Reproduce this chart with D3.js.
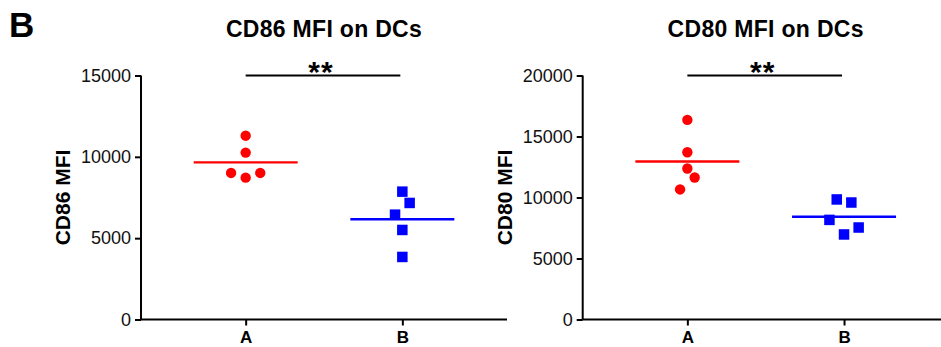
<!DOCTYPE html>
<html><head><meta charset="utf-8">
<script src="https://cdn.jsdelivr.net/npm/d3@7"></script>
<style>html,body{margin:0;padding:0;background:#fff;}svg{display:block;}</style>
</head><body>
<svg id="chart" width="941" height="347"></svg>
<script>
// ---- data ----
const categories = ["A", "B"];
const cd86A = [11300, 10260, 9010, 9010, 8720];
const cd86B = [7860, 7165, 6445, 5505, 3845];
const cd80A = [16360, 13710, 12380, 11640, 10660];
const cd80B = [9840, 9590, 8165, 7540, 6970];
// horizontal spread of overlapping symbols (in half-symbol steps)
const cd86SpreadA = [0, 0, -2, 2, 0];
const cd86SpreadB = [0, 1, -1, 0, 0];
const cd80SpreadA = [0, 0, 0, 1, -1];
const cd80SpreadB = [-1, 1, -2, 2, 0];
const cd86Ticks = [0, 5000, 10000, 15000];
const cd80Ticks = [0, 5000, 10000, 15000, 20000];
const titles = ["CD86 MFI on DCs", "CD80 MFI on DCs"];
const yLabels = ["CD86 MFI", "CD80 MFI"];
const signif = ["**", "**"];

const panels = [
  {title: titles[0], ylab: yLabels[0], A: cd86A, B: cd86B, sA: cd86SpreadA, sB: cd86SpreadB, ticks: cd86Ticks, sig: signif[0], ox: 141},
  {title: titles[1], ylab: yLabels[1], A: cd80A, B: cd80B, sA: cd80SpreadA, sB: cd80SpreadB, ticks: cd80Ticks, sig: signif[1], ox: 582.7}
];

const svg = d3.select("#chart");
const FONT = "Arial, 'Liberation Sans', Helvetica, sans-serif";
const yTop = 75.5, yBottom = 319.5, plotW = 366;
const red = "#ff0000", blue = "#0000ff";
const step = 7.3;

svg.append("text").attr("x", 9).attr("y", 36.7)
  .attr("font-family", FONT).attr("font-weight", "bold").attr("font-size", 35)
  .text("B");

panels.forEach(p => {
  const g = svg.append("g").attr("transform", `translate(${p.ox},0)`);
  const x = d3.scalePoint().domain(categories).range([0, plotW]).padding(0.668);
  const y = d3.scaleLinear().domain([0, d3.max(p.ticks)]).range([yBottom, yTop]);

  const yAxis = g.append("g").call(d3.axisLeft(y).tickValues(p.ticks).tickFormat(d3.format("d")).tickSize(6).tickPadding(4));
  yAxis.select(".domain").attr("stroke", "#000").attr("stroke-width", 2).attr("d", `M0,${yTop}V${yBottom}`);
  yAxis.selectAll(".tick line").attr("stroke", "#000").attr("stroke-width", 2);
  yAxis.selectAll(".tick text").attr("font-family", FONT).attr("font-size", 18).attr("fill", "#111");

  const xAxis = g.append("g").attr("transform", `translate(0,${yBottom})`)
    .call(d3.axisBottom(x).tickSize(6).tickPadding(5));
  xAxis.select(".domain").attr("stroke", "#000").attr("stroke-width", 2).attr("d", `M0,0H${plotW}`);
  xAxis.selectAll(".tick line").attr("stroke", "#000").attr("stroke-width", 2);
  xAxis.selectAll(".tick text").attr("font-family", FONT).attr("font-size", 17).attr("font-weight", "bold").attr("fill", "#000");

  // title
  g.append("text").attr("x", plotW / 2).attr("y", 36.7).attr("text-anchor", "middle")
    .attr("font-family", FONT).attr("font-weight", "bold").attr("font-size", 23)
    .attr("letter-spacing", 0.3).text(p.title);

  // y label
  g.append("text").attr("transform", `translate(-71,${(yTop + yBottom) / 2}) rotate(-90)`)
    .attr("text-anchor", "middle").attr("font-family", FONT).attr("font-weight", "bold").attr("font-size", 21)
    .text(p.ylab);

  // significance
  g.append("line").attr("x1", x("A")).attr("x2", x("B") - 2).attr("y1", yTop).attr("y2", yTop)
    .attr("stroke", "#000").attr("stroke-width", 2);
  g.append("text").attr("x", (x("A") + x("B")) / 2 - 3).attr("y", 82).attr("text-anchor", "middle")
    .attr("font-family", FONT).attr("font-weight", "bold").attr("font-size", 30)
    .attr("letter-spacing", 1).text(p.sig);

  // means
  [["A", p.A, red], ["B", p.B, blue]].forEach(([c, vals, col]) => {
    const m = d3.mean(vals);
    g.append("line").attr("x1", x(c) - 52).attr("x2", x(c) + 52).attr("y1", y(m)).attr("y2", y(m))
      .attr("stroke", col).attr("stroke-width", 2.3);
  });

  // points
  g.selectAll("circle.pt").data(p.A).join("circle").attr("class", "pt")
    .attr("cx", (d, i) => x("A") + p.sA[i] * step).attr("cy", d => y(d)).attr("r", 5.2).attr("fill", red);
  const s = 10.5;
  g.selectAll("rect.pt").data(p.B).join("rect").attr("class", "pt")
    .attr("x", (d, i) => x("B") + p.sB[i] * step - s / 2).attr("y", d => y(d) - s / 2)
    .attr("width", s).attr("height", s).attr("fill", blue);
});
</script>
</body></html>
